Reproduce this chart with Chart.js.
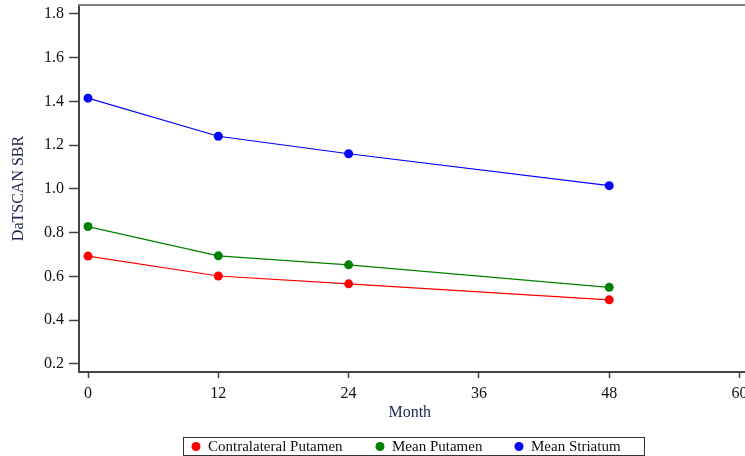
<!DOCTYPE html>
<html>
<head>
<meta charset="utf-8">
<script src="https://cdn.jsdelivr.net/npm/chart.js@4"></script>
<style>
  html, body { margin: 0; padding: 0; background: #fff; }
  #wrap { width: 745px; height: 456px; }
</style>
</head>
<body>
<div id="wrap"><canvas id="c" width="745" height="456"></canvas></div>
<script>
// ---- Data ----
const months = [0, 12, 24, 48];
const contralateralPutamen = [0.693, 0.602, 0.566, 0.493];
const meanPutamen = [0.828, 0.694, 0.653, 0.550];
const meanStriatum = [1.415, 1.241, 1.161, 1.015];
const seriesLabels = ['Contralateral Putamen', 'Mean Putamen', 'Mean Striatum'];
const seriesColors = ['#ff0000', '#008000', '#0000ff'];
const xTicks = [0, 12, 24, 36, 48, 60];
const yTicks = [0.2, 0.4, 0.6, 0.8, 1.0, 1.2, 1.4, 1.6, 1.8];

const FONT = "'Liberation Serif', 'Times New Roman', serif";
const seriesValues = [contralateralPutamen, meanPutamen, meanStriatum];

const datasets = seriesValues.map((vals, i) => ({
  label: seriesLabels[i],
  data: months.map((m, j) => ({ x: m, y: vals[j] })),
  borderColor: seriesColors[i],
  backgroundColor: seriesColors[i],
  pointBackgroundColor: seriesColors[i],
  pointBorderColor: seriesColors[i],
  pointRadius: 4.5,
  pointBorderWidth: 0,
  borderWidth: 1.2,
  tension: 0,
  fill: false
}));

const framePlugin = {
  id: 'frame',
  afterDraw(chart) {
    const ctx = chart.ctx;
    const a = chart.chartArea;
    ctx.save();
    // top border
    ctx.strokeStyle = '#808080';
    ctx.lineWidth = 2;
    ctx.beginPath();
    ctx.moveTo(a.left - 1, a.top);
    ctx.lineTo(chart.width, a.top);
    ctx.stroke();
    // extend x axis line to the edge
    ctx.strokeStyle = '#444';
    ctx.beginPath();
    ctx.moveTo(a.right - 1, a.bottom);
    ctx.lineTo(chart.width, a.bottom);
    ctx.stroke();

    // legend box
    const box = { x: 183.5, y: 437.5, w: 461, h: 18 };
    ctx.strokeStyle = '#333';
    ctx.lineWidth = 1;
    ctx.strokeRect(box.x, box.y, box.w, box.h);
    const dotX = [196, 380, 519];
    const cy = box.y + 9;
    ctx.font = "15px " + FONT;
    ctx.textBaseline = 'middle';
    ctx.textAlign = 'left';
    chart.data.datasets.forEach((ds, i) => {
      ctx.fillStyle = ds.borderColor;
      ctx.beginPath();
      ctx.arc(dotX[i], cy, 4.5, 0, Math.PI * 2);
      ctx.fill();
      ctx.fillStyle = '#111';
      ctx.fillText(ds.label, dotX[i] + 12, cy + 0.5);
    });
    ctx.restore();
  }
};

new Chart(document.getElementById('c'), {
  type: 'line',
  data: { datasets },
  options: {
    responsive: false,
    animation: false,
    devicePixelRatio: 1,
    layout: { padding: { top: 5, right: 0, bottom: 0, left: 0 } },
    plugins: { legend: { display: false }, tooltip: { enabled: false } },
    scales: {
      x: {
        type: 'linear',
        position: 'bottom',
        min: -0.83,
        max: 60.09,
        afterBuildTicks: s => { s.ticks = xTicks.map(v => ({ value: v })); },
        afterFit: s => { s.height = 84; s.paddingLeft = 0; s.paddingRight = 0; },
        ticks: {
          autoSkip: false,
          maxRotation: 0,
          padding: 6,
          color: '#111',
          font: { family: FONT, size: 16 },
          callback: v => String(v)
        },
        grid: { drawOnChartArea: false, drawTicks: true, tickLength: 6, color: '#444', tickWidth: 1.5 },
        border: { display: true, color: '#444', width: 2 },
        title: {
          display: true,
          text: 'Month',
          color: '#1c2550',
          font: { family: FONT, size: 16 },
          padding: { top: 0, bottom: 34 }
        }
      },
      y: {
        type: 'linear',
        min: 0.163,
        max: 1.841,
        afterBuildTicks: s => { s.ticks = yTicks.map(v => ({ value: v })); },
        afterFit: s => { s.width = 79; s.paddingTop = 0; s.paddingBottom = 0; },
        ticks: {
          padding: 5,
          color: '#111',
          font: { family: FONT, size: 16 },
          callback: v => Number(v).toFixed(1)
        },
        grid: { drawOnChartArea: false, drawTicks: true, tickLength: 10, color: '#444', tickWidth: 1.5 },
        border: { display: true, color: '#444', width: 2 },
        title: {
          display: true,
          text: 'DaTSCAN SBR',
          color: '#1c2550',
          font: { family: FONT, size: 16 },
          padding: { top: 9, bottom: 0 }
        }
      }
    }
  },
  plugins: [framePlugin]
});
</script>
</body>
</html>
